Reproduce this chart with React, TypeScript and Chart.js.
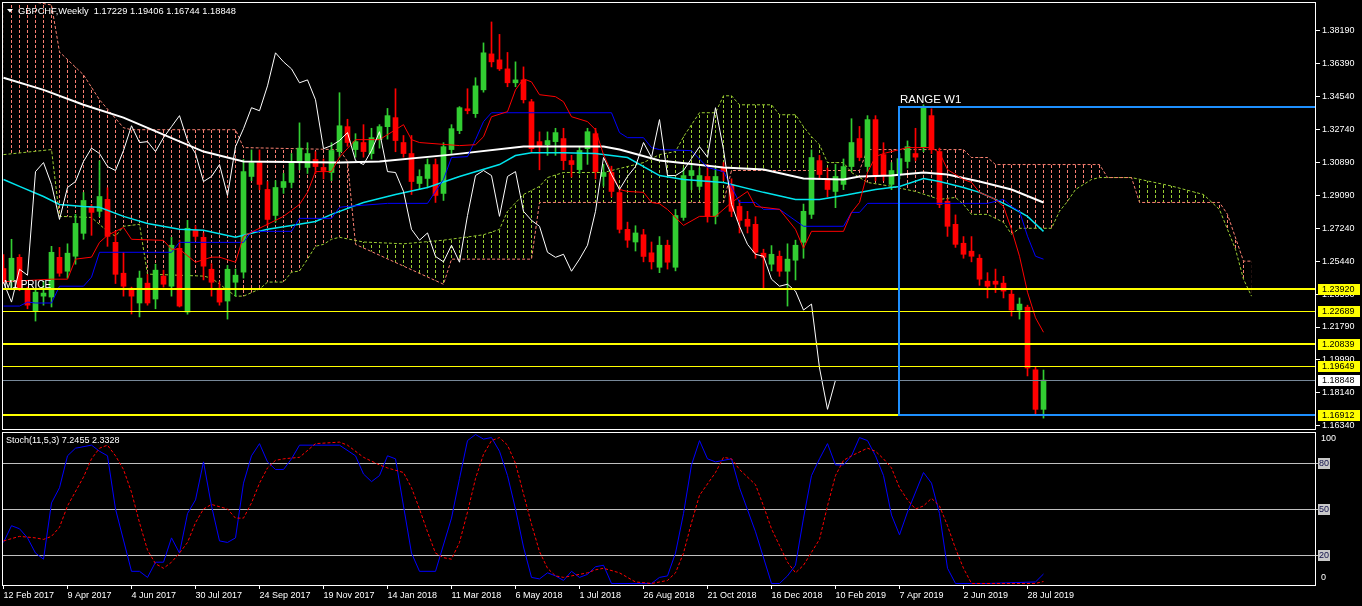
import React, { useEffect, useRef } from 'react';
import { Chart, registerables } from 'chart.js';

Chart.register(...registerables);

const FONT = '"Liberation Sans", Arial, sans-serif';

// ---------- data ----------
const DATE_LABELS = ['12 Feb 2017', '9 Apr 2017', '4 Jun 2017', '30 Jul 2017', '24 Sep 2017', '19 Nov 2017', '14 Jan 2018', '11 Mar 2018', '6 May 2018', '1 Jul 2018', '26 Aug 2018', '21 Oct 2018', '16 Dec 2018', '10 Feb 2019', '7 Apr 2019', '2 Jun 2019', '28 Jul 2019'];
const DATE_TICK_BARS = [0, 8, 16, 24, 32, 40, 48, 56, 64, 72, 80, 88, 96, 104, 112, 120, 128];

const OPEN = [1.2503, 1.2433, 1.2565, 1.2389, 1.2267, 1.2350, 1.2345, 1.2565, 1.2488, 1.2571, 1.2698, 1.2842, 1.2820, 1.2886, 1.2648, 1.2477, 1.2394, 1.2312, 1.2422, 1.2334, 1.2461, 1.2405, 1.2615, 1.2262, 1.2715, 1.2676, 1.2499, 1.2394, 1.2323, 1.2427, 1.2483, 1.3013, 1.3090, 1.2941, 1.2797, 1.2952, 1.2980, 1.3090, 1.3063, 1.3107, 1.3063, 1.3035, 1.3151, 1.3289, 1.3162, 1.3201, 1.3140, 1.3217, 1.3289, 1.3339, 1.3201, 1.3140, 1.2974, 1.3002, 1.3079, 1.2919, 1.3162, 1.3267, 1.3388, 1.3361, 1.3493, 1.3692, 1.3659, 1.3609, 1.3532, 1.3548, 1.3427, 1.3206, 1.3189, 1.3206, 1.3223, 1.3101, 1.3051, 1.3167, 1.3250, 1.3013, 1.3035, 1.2924, 1.2720, 1.2650, 1.2690, 1.2590, 1.2510, 1.2632, 1.2510, 1.2786, 1.3018, 1.2958, 1.3013, 1.2792, 1.3063, 1.2969, 1.2847, 1.2776, 1.2748, 1.2588, 1.2527, 1.2571, 1.2488, 1.2549, 1.2648, 1.2803, 1.3101, 1.3002, 1.2930, 1.2969, 1.3068, 1.3223, 1.3068, 1.3328, 1.3134, 1.2969, 1.3024, 1.3096, 1.3140, 1.3173, 1.3350, 1.3151, 1.2875, 1.2748, 1.2643, 1.2599, 1.2560, 1.2433, 1.2433, 1.2422, 1.2361, 1.2273, 1.2289, 1.1942, 1.17229];
const HIGH = [1.2580, 1.2665, 1.2580, 1.2400, 1.2389, 1.2433, 1.2626, 1.2620, 1.2640, 1.2803, 1.2924, 1.2858, 1.3100, 1.2950, 1.2709, 1.2593, 1.2400, 1.2489, 1.2470, 1.2527, 1.2494, 1.2676, 1.2660, 1.2770, 1.2740, 1.2700, 1.2530, 1.2430, 1.2520, 1.2500, 1.3107, 1.3160, 1.3160, 1.2985, 1.2990, 1.3030, 1.3140, 1.3310, 1.3200, 1.3150, 1.3110, 1.3200, 1.3477, 1.3330, 1.3250, 1.3300, 1.3280, 1.3300, 1.3390, 1.3499, 1.3240, 1.3240, 1.3050, 1.3110, 1.3110, 1.3200, 1.3300, 1.3400, 1.3499, 1.3560, 1.3753, 1.3869, 1.3800, 1.3700, 1.3648, 1.3620, 1.3440, 1.3260, 1.3260, 1.3280, 1.3280, 1.3130, 1.3180, 1.3280, 1.3280, 1.3080, 1.3070, 1.2940, 1.2760, 1.2740, 1.2720, 1.2650, 1.2680, 1.2660, 1.2830, 1.3060, 1.3080, 1.3060, 1.3080, 1.3060, 1.3090, 1.3000, 1.2880, 1.2820, 1.2790, 1.2610, 1.2630, 1.2600, 1.2640, 1.2660, 1.2860, 1.3160, 1.3130, 1.3060, 1.3080, 1.3110, 1.3333, 1.3290, 1.3350, 1.3350, 1.3200, 1.3090, 1.3140, 1.3210, 1.3280, 1.3410, 1.3388, 1.3170, 1.2890, 1.2800, 1.2680, 1.2680, 1.2580, 1.2480, 1.2500, 1.2460, 1.2390, 1.2340, 1.2300, 1.1960, 1.19406];
const LOW = [1.2420, 1.2389, 1.2380, 1.2280, 1.2212, 1.2300, 1.2290, 1.2460, 1.2450, 1.2527, 1.2665, 1.2687, 1.2790, 1.2626, 1.2420, 1.2350, 1.2251, 1.2235, 1.2300, 1.2280, 1.2400, 1.2350, 1.2290, 1.2250, 1.2660, 1.2440, 1.2350, 1.2300, 1.2223, 1.2350, 1.2450, 1.2990, 1.2940, 1.2740, 1.2760, 1.2920, 1.2950, 1.3050, 1.3030, 1.3030, 1.3000, 1.2990, 1.3120, 1.3180, 1.3120, 1.3120, 1.3110, 1.3170, 1.3220, 1.3150, 1.3120, 1.2913, 1.2940, 1.2950, 1.2869, 1.2880, 1.3140, 1.3250, 1.3360, 1.3340, 1.3480, 1.3620, 1.3600, 1.3510, 1.3510, 1.3420, 1.3150, 1.3050, 1.3130, 1.3130, 1.3050, 1.3010, 1.3030, 1.3080, 1.3000, 1.2960, 1.2900, 1.2700, 1.2620, 1.2600, 1.2540, 1.2500, 1.2480, 1.2500, 1.2490, 1.2770, 1.2940, 1.2940, 1.2760, 1.2750, 1.2990, 1.2790, 1.2700, 1.2700, 1.2560, 1.2389, 1.2490, 1.2460, 1.2295, 1.2440, 1.2560, 1.2780, 1.3000, 1.2900, 1.2840, 1.2940, 1.3040, 1.3100, 1.3040, 1.2990, 1.2990, 1.2940, 1.3000, 1.3060, 1.3100, 1.3150, 1.3140, 1.2840, 1.2681, 1.2620, 1.2560, 1.2540, 1.2410, 1.2340, 1.2370, 1.2340, 1.2240, 1.2223, 1.1908, 1.16912, 1.16744];
const CLOSE = [1.2435, 1.2560, 1.2389, 1.2300, 1.2372, 1.2367, 1.2593, 1.2477, 1.2588, 1.2753, 1.2880, 1.2814, 1.2902, 1.2681, 1.2471, 1.2405, 1.2350, 1.2450, 1.2312, 1.2494, 1.2416, 1.2632, 1.2295, 1.2726, 1.2681, 1.2516, 1.2427, 1.2317, 1.2499, 1.2466, 1.3040, 1.3090, 1.2969, 1.2775, 1.2952, 1.2985, 1.3096, 1.3170, 1.3140, 1.3068, 1.3046, 1.3157, 1.3294, 1.3201, 1.3206, 1.3151, 1.3228, 1.3289, 1.3350, 1.3212, 1.3140, 1.2985, 1.3013, 1.3079, 1.2908, 1.3178, 1.3278, 1.3394, 1.3377, 1.3515, 1.3698, 1.3648, 1.3609, 1.3532, 1.3548, 1.3438, 1.3167, 1.3184, 1.3212, 1.3256, 1.3101, 1.3079, 1.3157, 1.3261, 1.3040, 1.3035, 1.2930, 1.2720, 1.2660, 1.2700, 1.2570, 1.2540, 1.2632, 1.2538, 1.2797, 1.3018, 1.3046, 1.3018, 1.2792, 1.3013, 1.3040, 1.2820, 1.2770, 1.2737, 1.2593, 1.2565, 1.2582, 1.2488, 1.2555, 1.2632, 1.2820, 1.3118, 1.3024, 1.2941, 1.3013, 1.3068, 1.3201, 1.3118, 1.3328, 1.3018, 1.3018, 1.3046, 1.3112, 1.3178, 1.3120, 1.3394, 1.3162, 1.2858, 1.2737, 1.2637, 1.2582, 1.2571, 1.2444, 1.2405, 1.2416, 1.2378, 1.2273, 1.2306, 1.1952, 1.17229, 1.18848];

const TENKAN = [[0, 1.2430], [6, 1.2444], [8, 1.2444], [9, 1.2555], [11, 1.2566], [12, 1.2648], [13, 1.2687], [15, 1.2731], [16, 1.2665], [20, 1.2659], [21, 1.2610], [22, 1.2610], [24, 1.2538], [26, 1.2566], [27, 1.2566], [29, 1.2538], [30, 1.2682], [35, 1.2792], [37, 1.2858], [38, 1.2925], [39, 1.3040], [41, 1.3040], [42, 1.3120], [44, 1.3217], [47, 1.3217], [50, 1.3300], [51, 1.3217], [52, 1.3201], [57, 1.3184], [59, 1.3189], [60, 1.3233], [61, 1.3344], [63, 1.3372], [64, 1.3493], [65, 1.3554], [66, 1.3537], [67, 1.3466], [69, 1.3455], [70, 1.3427], [71, 1.3344], [73, 1.3317], [74, 1.3272], [75, 1.3134], [77, 1.2941], [78, 1.2930], [80, 1.2925], [81, 1.2869], [82, 1.2862], [83, 1.2830], [85, 1.2742], [87, 1.2792], [89, 1.2792], [91, 1.2869], [93, 1.2930], [94, 1.2847], [97, 1.2831], [99, 1.2720], [100, 1.2615], [101, 1.2709], [105, 1.2709], [106, 1.2814], [107, 1.2869], [108, 1.3035], [109, 1.3123], [110, 1.3140], [113, 1.3173], [116, 1.3173], [117, 1.3145], [118, 1.3051], [120, 1.2996], [121, 1.2980], [122, 1.2925], [124, 1.2886], [125, 1.2847], [126, 1.2720], [127, 1.2571], [128, 1.2372], [129, 1.2230], [130, 1.2150]];
const KIJUN = [[0, 1.2295], [2, 1.2295], [3, 1.2317], [4, 1.2312], [6, 1.2312], [7, 1.2405], [10, 1.2405], [11, 1.2455], [12, 1.2593], [21, 1.2593], [22, 1.2648], [30, 1.2648], [31, 1.2709], [36, 1.2709], [37, 1.2781], [41, 1.2781], [42, 1.2842], [43, 1.2847], [48, 1.2864], [53, 1.2864], [55, 1.2996], [56, 1.3118], [58, 1.3123], [59, 1.3217], [60, 1.3317], [61, 1.3366], [76, 1.3366], [77, 1.3256], [78, 1.3228], [80, 1.3228], [81, 1.3173], [82, 1.3162], [86, 1.3156], [88, 1.3063], [90, 1.3040], [92, 1.2869], [94, 1.2869], [95, 1.2831], [97, 1.2831], [100, 1.2737], [105, 1.2737], [106, 1.2814], [107, 1.2814], [108, 1.2864], [123, 1.2864], [125, 1.2886], [126, 1.2847], [127, 1.2820], [128, 1.2682], [129, 1.2571], [130, 1.2555]];
const SENKOU_A = [[0, 1.3134], [6, 1.3162], [7, 1.2792], [11, 1.2786], [13, 1.2709], [14, 1.2682], [15, 1.2737], [17, 1.2748], [18, 1.2472], [25, 1.2461], [26, 1.2450], [29, 1.2350], [30, 1.2350], [32, 1.2389], [33, 1.2428], [35, 1.2428], [36, 1.2483], [37, 1.2489], [38, 1.2555], [39, 1.2626], [40, 1.2637], [41, 1.2665], [42, 1.2676], [45, 1.2650], [50, 1.2640], [55, 1.2660], [60, 1.2690], [62, 1.2720], [63, 1.2820], [65, 1.2913], [67, 1.2958], [68, 1.3007], [70, 1.3035], [75, 1.3035], [80, 1.3090], [82, 1.3134], [84, 1.3151], [85, 1.3233], [87, 1.3366], [89, 1.3366], [90, 1.3460], [91, 1.3460], [92, 1.3410], [96, 1.3410], [97, 1.3355], [99, 1.3355], [100, 1.3289], [101, 1.3233], [102, 1.3189], [103, 1.3090], [105, 1.3090], [106, 1.3035], [108, 1.2980], [111, 1.2958], [114, 1.2930], [117, 1.2886], [119, 1.2897], [120, 1.2858], [121, 1.2803], [123, 1.2803], [125, 1.2759], [126, 1.2693], [127, 1.2726], [131, 1.2726], [132, 1.2820], [133, 1.2875], [134, 1.2941], [136, 1.2996], [137, 1.3007], [141, 1.3007], [146, 1.2960], [150, 1.2913], [152, 1.2830], [154, 1.2610], [155, 1.2444], [156, 1.2350]];
const SENKOU_B = [[0, 1.4010], [6, 1.3963], [7, 1.3703], [10, 1.3576], [12, 1.3438], [15, 1.3283], [16, 1.3272], [29, 1.3272], [30, 1.3173], [42, 1.3162], [43, 1.3096], [44, 1.2637], [55, 1.2416], [56, 1.2555], [66, 1.2555], [67, 1.2869], [90, 1.2869], [91, 1.3046], [107, 1.3046], [108, 1.3162], [120, 1.3162], [121, 1.3118], [123, 1.3118], [124, 1.3079], [137, 1.3079], [138, 1.3007], [141, 1.3007], [142, 1.2869], [152, 1.2869], [153, 1.2803], [155, 1.2544], [156, 1.2544]];
const MA_WHITE = [[0, 1.3560], [5, 1.3493], [10, 1.3410], [15, 1.3339], [20, 1.3245], [25, 1.3151], [30, 1.3096], [42, 1.3090], [47, 1.3096], [56, 1.3134], [65, 1.3179], [75, 1.3179], [77, 1.3162], [82, 1.3101], [90, 1.3063], [95, 1.3051], [100, 1.3002], [105, 1.2996], [107, 1.3013], [111, 1.3018], [115, 1.3035], [118, 1.3024], [122, 1.2985], [126, 1.2941], [130, 1.2869]];
const MA_CYAN = [[0, 1.2996], [2, 1.2958], [5, 1.2902], [7, 1.2858], [10, 1.2847], [12, 1.2842], [15, 1.2792], [18, 1.2753], [22, 1.2720], [25, 1.2715], [29, 1.2676], [30, 1.2687], [33, 1.2720], [36, 1.2742], [39, 1.2764], [41, 1.2803], [45, 1.2869], [49, 1.2913], [53, 1.2952], [57, 1.3013], [62, 1.3079], [64, 1.3129], [66, 1.3145], [70, 1.3145], [74, 1.3140], [78, 1.3118], [82, 1.3018], [85, 1.2996], [90, 1.2980], [95, 1.2925], [99, 1.2886], [102, 1.2886], [105, 1.2908], [109, 1.2941], [112, 1.2958], [115, 1.3002], [117, 1.2985], [120, 1.2952], [122, 1.2925], [124, 1.2886], [126, 1.2842], [128, 1.2792], [130, 1.2709]];
const CHIKOU_SHIFT = 26;

const STOCH_K = [[0, 28], [1, 39], [2, 37], [3, 31], [4, 21], [5, 17], [6, 54], [7, 64], [8, 85], [9, 90], [11, 92], [12, 88], [13, 85], [14, 50], [16, 9], [17, 9], [18, 5], [19, 15], [20, 15], [21, 31], [22, 21], [23, 47], [24, 56], [25, 81], [26, 52], [27, 29], [28, 28], [29, 31], [30, 67], [31, 85], [32, 93], [33, 81], [34, 76], [35, 76], [36, 83], [37, 92], [42, 92], [44, 85], [45, 73], [46, 68], [47, 72], [48, 85], [49, 83], [50, 52], [51, 21], [52, 9], [54, 9], [56, 44], [57, 70], [58, 95], [59, 99], [60, 96], [61, 97], [62, 88], [63, 72], [64, 50], [65, 25], [66, 5], [67, 4], [68, 8], [69, 6], [70, 3], [71, 9], [72, 5], [73, 7], [74, 12], [75, 13], [76, 1], [81, 1], [82, 5], [83, 6], [84, 21], [85, 47], [86, 79], [87, 95], [88, 83], [89, 81], [91, 83], [92, 64], [94, 35], [96, 1], [97, 1], [98, 6], [99, 13], [100, 44], [101, 72], [102, 83], [103, 93], [104, 79], [105, 79], [106, 85], [107, 97], [108, 95], [109, 85], [110, 72], [111, 46], [112, 33], [113, 48], [115, 74], [116, 67], [117, 47], [118, 11], [119, 1], [123, 1], [129, 2], [130, 7.2455]];
const STOCH_D = [[0, 29], [2, 32], [4, 31], [5, 30], [6, 32], [7, 38], [8, 52], [10, 71], [11, 83], [12, 90], [13, 92], [14, 85], [15, 76], [16, 61], [17, 41], [18, 23], [19, 14], [20, 11], [21, 15], [22, 21], [23, 28], [24, 41], [25, 50], [26, 53], [28, 50], [29, 44], [30, 44], [31, 54], [32, 67], [33, 77], [34, 82], [35, 83], [37, 84], [39, 93], [42, 94], [43, 92], [45, 84], [47, 79], [48, 77], [50, 74], [51, 64], [52, 50], [53, 35], [54, 21], [55, 18], [56, 17], [57, 28], [58, 48], [59, 70], [60, 86], [61, 95], [62, 97], [63, 92], [64, 80], [65, 60], [66, 40], [67, 22], [68, 11], [69, 6], [70, 5], [71, 6], [72, 7], [73, 8], [74, 10], [75, 11], [77, 8], [79, 2], [81, 1], [83, 3], [84, 8], [85, 21], [86, 41], [87, 59], [89, 74], [90, 84], [91, 83], [92, 76], [94, 66], [95, 52], [96, 37], [97, 26], [98, 15], [99, 8], [100, 13], [102, 30], [103, 52], [104, 72], [105, 82], [106, 85], [108, 90], [109, 88], [110, 83], [111, 77], [112, 64], [113, 56], [114, 50], [115, 52], [116, 57], [117, 52], [118, 39], [119, 24], [120, 11], [121, 1], [129, 1], [130, 2.3328]];
const STOCH_LEVELS = [80, 50, 20];

const PRICE_TICKS = [1.3819, 1.3639, 1.3454, 1.3274, 1.3089, 1.2909, 1.2724, 1.2544, 1.2359, 1.2179, 1.1999, 1.1814, 1.1634];
const LEVEL_VALUES = [1.2392, 1.22689, 1.20839, 1.19649, 1.16912];
const LEVEL_WIDTHS = [2, 1, 2, 1, 2];
const CURRENT_PRICE = 1.18848;
const M1_LEVEL = 1.2392;
const RANGE_START_BAR = 112;
const RANGE_HIGH = 1.3398;
const RANGE_LOW = 1.16912;
const HEADER = 'GBPCHF,Weekly  1.17229 1.19406 1.16744 1.18848';
const STOCH_HEADER = 'Stoch(11,5,3) 7.2455 2.3328';

// ---------- layout constants ----------
const X_MIN = -0.0625;
const X_MAX = 164.0625;
const Y_MIN = 1.1614;
const Y_MAX = 1.3974;

const GREEN = '#32CD32';
const RED = '#FF0000';

const pts = (arr: number[][]) => arr.map(([x, y]) => ({ x, y }));

function makePattern(ctx: CanvasRenderingContext2D, color: string) {
  const tile = document.createElement('canvas');
  tile.width = 8;
  tile.height = 5;
  const g = tile.getContext('2d')!;
  g.fillStyle = color;
  g.fillRect(3, 0, 1, 3);
  return ctx.createPattern(tile, 'repeat');
}

function frame(ctx: CanvasRenderingContext2D, a: any) {
  ctx.save();
  ctx.strokeStyle = '#FFFFFF';
  ctx.lineWidth = 1;
  ctx.strokeRect(a.left - 0.5, a.top - 0.5, a.right - a.left, a.bottom - a.top + 1);
  ctx.restore();
}

function priceBox(ctx: CanvasRenderingContext2D, py: number, text: string, bg: string) {
  ctx.fillStyle = bg;
  ctx.fillRect(1318, Math.round(py) - 5, 42, 11);
  ctx.fillStyle = '#000000';
  ctx.font = `9px ${FONT}`;
  ctx.textBaseline = 'middle';
  ctx.textAlign = 'left';
  ctx.fillText(text, 1322, Math.round(py) + 0.5);
}

const mainPlugin = {
  id: 'mainOverlay',
  afterDatasetsDraw(chart: any) {
    const { ctx, chartArea: a, scales } = chart;
    const x = scales.x;
    const y = scales.y;
    ctx.save();
    ctx.beginPath();
    ctx.rect(a.left, a.top, a.right - a.left, a.bottom - a.top);
    ctx.clip();
    ctx.fillStyle = '#778899';
    ctx.fillRect(a.left, Math.round(y.getPixelForValue(CURRENT_PRICE)), a.right - a.left, 1);
    LEVEL_VALUES.forEach((v, i) => {
      const py = Math.round(y.getPixelForValue(v));
      ctx.fillStyle = '#FFFF00';
      const w = LEVEL_WIDTHS[i];
      ctx.fillRect(a.left, py - (w > 1 ? 1 : 0), a.right - a.left, w);
    });
    const rx = Math.round(x.getPixelForValue(RANGE_START_BAR));
    const rt = Math.round(y.getPixelForValue(RANGE_HIGH));
    const rb = Math.round(y.getPixelForValue(RANGE_LOW));
    ctx.strokeStyle = '#1E90FF';
    ctx.lineWidth = 2;
    ctx.strokeRect(rx - 1, rt, a.right + 20 - rx, rb - rt);
    ctx.restore();

    ctx.save();
    ctx.fillStyle = '#FFFFFF';
    ctx.textAlign = 'left';
    ctx.textBaseline = 'alphabetic';
    ctx.font = `11.5px ${FONT}`;
    ctx.fillText('RANGE W1', rx, rt - 4);
    ctx.font = `10px ${FONT}`;
    ctx.fillText('M1 PRICE', a.left + 1, Math.round(y.getPixelForValue(M1_LEVEL)) - 1);
    ctx.restore();
  },
  afterDraw(chart: any) {
    const { ctx, chartArea: a, scales } = chart;
    const y = scales.y;
    frame(ctx, a);
    ctx.save();
    LEVEL_VALUES.forEach((v) => priceBox(ctx, y.getPixelForValue(v), v.toFixed(5), '#FFFF00'));
    priceBox(ctx, y.getPixelForValue(CURRENT_PRICE), CURRENT_PRICE.toFixed(5), '#FFFFFF');
    ctx.fillStyle = '#FFFFFF';
    ctx.beginPath();
    ctx.moveTo(7, 9);
    ctx.lineTo(13, 9);
    ctx.lineTo(10, 12.5);
    ctx.closePath();
    ctx.fill();
    ctx.font = `9.3px ${FONT}`;
    ctx.textBaseline = 'middle';
    ctx.fillText(HEADER, 18, 11);
    ctx.restore();
  },
};

const stochPlugin = {
  id: 'stochOverlay',
  beforeDatasetsDraw(chart: any) {
    const { ctx, chartArea: a, scales } = chart;
    const y = scales.y;
    ctx.save();
    ctx.fillStyle = '#C0C0C0';
    STOCH_LEVELS.forEach((v) => {
      ctx.fillRect(a.left, Math.round(y.getPixelForValue(v)), a.right - a.left + 4, 1);
    });
    ctx.restore();
  },
  afterDraw(chart: any) {
    const { ctx, chartArea: a, scales } = chart;
    const y = scales.y;
    frame(ctx, a);
    ctx.save();
    ctx.font = `9px ${FONT}`;
    ctx.textAlign = 'left';
    ctx.textBaseline = 'middle';
    STOCH_LEVELS.forEach((v) => {
      const py = Math.round(y.getPixelForValue(v));
      ctx.fillStyle = '#C8C8C8';
      ctx.fillRect(1318, py - 5, 12, 11);
      ctx.fillStyle = '#10104A';
      ctx.fillText(String(v), 1319, py + 0.5);
    });
    ctx.fillStyle = '#FFFFFF';
    ctx.fillText('100', 1321, Math.round(y.getPixelForValue(100)) + 6);
    ctx.fillText('0', 1321, Math.round(y.getPixelForValue(0)) - 7);
    ctx.fillText(STOCH_HEADER, 6, 10);
    ctx.restore();
  },
};

export default function App() {
  const mainRef = useRef<HTMLCanvasElement>(null);
  const stochRef = useRef<HTMLCanvasElement>(null);

  useEffect(() => {
    const mctx = mainRef.current!.getContext('2d')!;
    const greenPat = makePattern(mctx, '#9ACD32');
    const salmonPat = makePattern(mctx, '#FA8072');

    const wicks = OPEN.map((o, i) => ({ x: i, y: [LOW[i], HIGH[i]] }));
    const bodies = OPEN.map((o, i) => ({ x: i, y: [o, CLOSE[i]] }));
    const colors = OPEN.map((o, i) => (CLOSE[i] >= o ? GREEN : RED));
    const chikou = CLOSE.slice(CHIKOU_SHIFT).map((c, k) => ({ x: k, y: c }));

    const lineBase = { type: 'line', pointRadius: 0, tension: 0, fill: false, borderWidth: 1 };

    const main = new Chart(mctx, {
      type: 'line',
      data: {
        datasets: [
          { ...lineBase, label: 'SenkouA', data: pts(SENKOU_A), borderColor: '#9ACD32', borderDash: [3, 2], fill: { target: 1, above: greenPat, below: salmonPat }, order: 10 },
          { ...lineBase, label: 'SenkouB', data: pts(SENKOU_B), borderColor: '#FA8072', borderDash: [3, 2], order: 9 },
          { type: 'bar', label: 'wick', data: wicks, backgroundColor: colors, barThickness: 1, grouped: false, order: 8 },
          { type: 'bar', label: 'body', data: bodies, backgroundColor: colors, barThickness: 5, minBarLength: 1, grouped: false, order: 7 },
          { ...lineBase, label: 'MA', data: pts(MA_WHITE), borderColor: '#FFFFFF', borderWidth: 2, order: 6 },
          { ...lineBase, label: 'MA2', data: pts(MA_CYAN), borderColor: '#00E5EE', borderWidth: 1.5, order: 5 },
          { ...lineBase, label: 'Kijun', data: pts(KIJUN), borderColor: '#0000FF', order: 4 },
          { ...lineBase, label: 'Tenkan', data: pts(TENKAN), borderColor: '#FF0000', order: 3 },
          { ...lineBase, label: 'Chikou', data: chikou, borderColor: '#FFFFFF', order: 2 },
        ] as any,
      },
      options: {
        animation: false,
        responsive: false,
        devicePixelRatio: 1,
        layout: { padding: { left: 3, top: 3, right: 0, bottom: 2 } },
        plugins: { legend: { display: false }, tooltip: { enabled: false } },
        scales: {
          x: { type: 'linear', display: false, offset: false, min: X_MIN, max: X_MAX, grid: { offset: false } },
          y: {
            type: 'linear',
            position: 'right',
            min: Y_MIN,
            max: Y_MAX,
            afterBuildTicks: (s: any) => { s.ticks = PRICE_TICKS.map((v) => ({ value: v })); },
            afterFit: (s: any) => { s.width = 46; s.paddingTop = 0; s.paddingBottom = 0; },
            ticks: { color: '#FFFFFF', font: { family: FONT, size: 9 }, padding: 2, autoSkip: false, callback: (v: any) => Number(v).toFixed(5) },
            grid: { drawOnChartArea: false, drawTicks: true, tickLength: 4, color: '#FFFFFF' },
            border: { display: false },
          },
        },
      } as any,
      plugins: [mainPlugin],
    });

    const sctx = stochRef.current!.getContext('2d')!;
    const stoch = new Chart(sctx, {
      type: 'line',
      data: {
        datasets: [
          { ...lineBase, label: '%K', data: pts(STOCH_K), borderColor: '#0000FF', order: 2 },
          { ...lineBase, label: '%D', data: pts(STOCH_D), borderColor: '#FF0000', borderDash: [3, 2], order: 1 },
        ] as any,
      },
      options: {
        animation: false,
        responsive: false,
        devicePixelRatio: 1,
        layout: { padding: { left: 3, top: 2, right: 0, bottom: 0 } },
        plugins: { legend: { display: false }, tooltip: { enabled: false } },
        scales: {
          x: {
            type: 'linear',
            offset: false,
            min: X_MIN,
            max: X_MAX,
            afterBuildTicks: (s: any) => { s.ticks = DATE_TICK_BARS.map((v) => ({ value: v })); },
            afterFit: (s: any) => { s.height = 21; s.paddingLeft = 0; s.paddingRight = 0; },
            ticks: { color: '#FFFFFF', font: { family: FONT, size: 9 }, padding: 1, align: 'start', maxRotation: 0, autoSkip: false, callback: (v: any, i: number) => DATE_LABELS[i] },
            grid: { drawOnChartArea: false, drawTicks: true, tickLength: 4, color: '#FFFFFF', offset: false },
            border: { display: false },
          },
          y: {
            type: 'linear',
            position: 'right',
            min: 0,
            max: 100,
            ticks: { display: false },
            grid: { display: false },
            border: { display: false },
            afterFit: (s: any) => { s.width = 46; s.paddingTop = 0; s.paddingBottom = 0; },
          },
        },
      } as any,
      plugins: [stochPlugin],
    });

    return () => {
      main.destroy();
      stoch.destroy();
    };
  }, []);

  return (
    <div style={{ position: 'absolute', left: 0, top: 0, width: 1362, height: 606, background: '#000000', overflow: 'hidden' }}>
      <canvas ref={mainRef} width={1362} height={431} style={{ position: 'absolute', left: 0, top: 0, display: 'block' }} />
      <canvas ref={stochRef} width={1362} height={175} style={{ position: 'absolute', left: 0, top: 431, display: 'block' }} />
    </div>
  );
}
